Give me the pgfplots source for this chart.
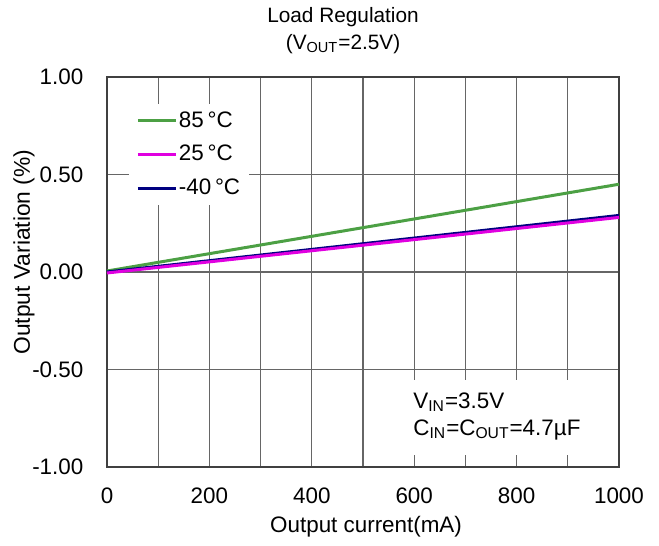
\documentclass[border=0pt]{standalone}
\usepackage{fontspec}
\setmainfont{Liberation Sans}
\usepackage{pgfplots}
\pgfplotsset{compat=1.18}
\definecolor{cgreen}{RGB}{76,160,68}
\definecolor{cmag}{RGB}{224,0,224}
\definecolor{cnavy}{RGB}{0,0,128}
\begin{document}
\begin{tikzpicture}[font=\fontsize{11.2}{13.4}\selectfont]
\path (-53.5pt,-39.5pt) rectangle (276pt,233.5pt);
\begin{axis}[
  at={(0,0)}, anchor=south west,
  scale only axis, width=256pt, height=195pt,
  xmin=0, xmax=1000, ymin=-1, ymax=1,
  xtick={0,200,...,1000}, minor xtick={100,300,500,700,900},
  ytick={-1,-0.5,0,0.5,1},
  xticklabel style={/pgf/number format/.cd,1000 sep={}},
  yticklabel style={/pgf/number format/.cd,fixed,fixed zerofill,precision=2},
  /pgf/number format/assume math mode=true,
  tick label style={font=\fontsize{11.2}{13.4}\selectfont},
  xticklabel shift=6.8pt, yticklabel shift=8.3pt,
  major tick length=0pt, minor tick length=0pt,
  grid=both,
  major grid style={black!60, line width=0.55pt},
  minor grid style={black!60, line width=0.55pt},
  axis line style={black!75, line width=0.7pt},
  xlabel={Output current(mA)},
  ylabel={Output Variation (\%)},
  xlabel style={at={(axis description cs:0.506,-0.154)}, anchor=center},
  ylabel style={at={(axis description cs:-0.162,0.551)}, anchor=center, rotate=0, font=\fontsize{11.4}{13.4}\selectfont},
  every axis title shift=0pt,
  title={Load Regulation\\(V\textsubscript{OUT}=2.5V)},
  title style={at={(axis description cs:0.461,1.119)}, anchor=center, align=center, font=\fontsize{10.4}{13.5}\selectfont},
  legend style={at={(rel axis cs:0.043,0.933)}, anchor=north west, draw=none, fill=white,
    inner xsep=3.5pt, inner ysep=2pt, row sep=3.5pt,
    nodes={inner xsep=0.75pt, inner ysep=2pt},
    font=\fontsize{11.2}{13.4}\selectfont},
  legend cell align=left,
  legend image code/.code={\draw[#1] (0pt,0pt) -- (19pt,0pt);},
]
\addplot[cgreen, line width=1.5pt] coordinates {(0,0.005) (200,0.094) (400,0.183) (600,0.272) (800,0.361) (1000,0.45)};
\addlegendentry{85\,°C}
\addplot[cnavy, line width=1.5pt, forget plot] coordinates {(0,0.0) (200,0.058) (400,0.116) (600,0.174) (800,0.232) (1000,0.29)};
\addplot[cmag, line width=1.5pt] coordinates {(0,-0.005) (200,0.052) (400,0.109) (600,0.166) (800,0.223) (1000,0.28)};
\addlegendentry{25\,°C}
\addlegendimage{cnavy, line width=1.5pt}
\addlegendentry{-40\,°C}
\fill[white] (rel axis cs:0.5625,0.031) rectangle (rel axis cs:0.963,0.223);
\node[anchor=base west, inner sep=0pt] at (rel axis cs:0.5977,0.151) {V\textsubscript{IN}=3.5V};
\node[anchor=base west, inner sep=0pt] at (rel axis cs:0.5977,0.082) {C\textsubscript{IN}=C\textsubscript{OUT}=4.7µF};
\end{axis}
\end{tikzpicture}
\end{document}
